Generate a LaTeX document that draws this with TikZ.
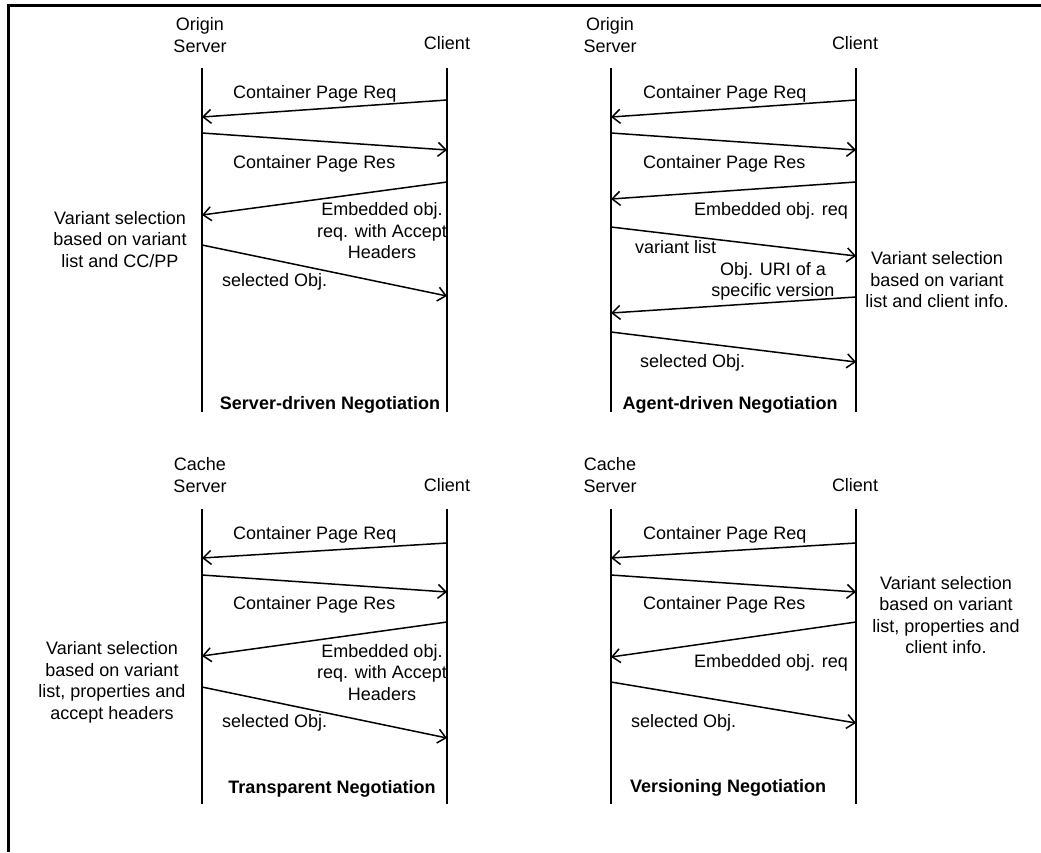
\documentclass[tikz,border=0pt]{standalone}
\usepackage{fontspec}
\setmainfont{Liberation Sans}
\usetikzlibrary{arrows.meta}
\begin{document}
\begin{tikzpicture}[x=1pt,y=-1pt,
  life/.style={line width=1.8pt},
  msg/.style={line width=1.5pt,-{Straight Barb[length=8pt,width=14pt,line width=1.5pt]}},
  lbl/.style={inner sep=0pt,font=\fontsize{18}{21.5}\selectfont},
  mlbl/.style={lbl,align=center},
  ttl/.style={inner sep=0pt,font=\fontsize{18}{21.5}\selectfont\bfseries},
  frame/.style={line width=3pt}]
\useasboundingbox (0,0) rectangle (1041,852);
% frame
\coordinate (fTL) at (8,5);
\coordinate (fTR) at (1041,5);
\coordinate (fBL) at (8,852);
\draw[frame] (fTR) -- (fTL) -- (fBL);

%%%%%%%%%%%%%%%% Panel 1: Server-driven
\node[mlbl] (h1s) at (200,35) {Origin\\Server};
\node[lbl,anchor=base] (h1c) at (447,49.5) {Client};
\coordinate (s1t) at (202,68); \coordinate (s1b) at (202,412);
\coordinate (c1t) at (447,68); \coordinate (c1b) at (447,412);
\draw[life] (s1t) -- (s1b);
\draw[life] (c1t) -- (c1b);
\coordinate (p1a) at (447,100); \coordinate (p1b) at (202,117);
\coordinate (p1c) at (202,133); \coordinate (p1d) at (447,150);
\coordinate (p1e) at (447,182); \coordinate (p1f) at (202,215);
\coordinate (p1g) at (202,245); \coordinate (p1h) at (447,296);
\draw[msg] (p1a) -- (p1b);
\draw[msg] (p1c) -- (p1d);
\draw[msg] (p1e) -- (p1f);
\draw[msg] (p1g) -- (p1h);
\node[lbl,anchor=base west] (l1a) at (233,98) {Container Page Req};
\node[lbl,anchor=base west] (l1b) at (233,168.5) {Container Page Res};
\node[mlbl] (l1c) at (382,231) {Embedded obj.\\req. with Accept\\Headers};
\node[mlbl] (l1d) at (120,239.5) {Variant selection\\based on variant\\list and CC/PP};
\node[lbl,anchor=base west] (l1e) at (222,286) {selected Obj.};
\node[ttl,anchor=base] (t1) at (330,409) {Server-driven Negotiation};

%%%%%%%%%%%%%%%% Panel 2: Agent-driven
\node[mlbl] (h2s) at (610,35) {Origin\\Server};
\node[lbl,anchor=base] (h2c) at (855,49.5) {Client};
\coordinate (s2t) at (611,68); \coordinate (s2b) at (611,412);
\coordinate (c2t) at (856,68); \coordinate (c2b) at (856,412);
\draw[life] (s2t) -- (s2b);
\draw[life] (c2t) -- (c2b);
\coordinate (p2a) at (856,100); \coordinate (p2b) at (611,117);
\coordinate (p2c) at (611,133); \coordinate (p2d) at (856,150);
\coordinate (p2e) at (856,182); \coordinate (p2f) at (611,199);
\coordinate (p2g) at (611,227); \coordinate (p2h) at (856,256);
\coordinate (p2i) at (856,297); \coordinate (p2j) at (611,313);
\coordinate (p2k) at (611,332); \coordinate (p2l) at (856,362);
\draw[msg] (p2a) -- (p2b);
\draw[msg] (p2c) -- (p2d);
\draw[msg] (p2e) -- (p2f);
\draw[msg] (p2g) -- (p2h);
\draw[msg] (p2i) -- (p2j);
\draw[msg] (p2k) -- (p2l);
\node[lbl,anchor=base west] (l2a) at (643,98) {Container Page Req};
\node[lbl,anchor=base west] (l2b) at (643,168.5) {Container Page Res};
\node[lbl,anchor=base east] (l2c) at (848,215.5) {Embedded obj. req};
\node[lbl,anchor=base west] (l2d) at (635,253.5) {variant list};
\node[mlbl] (l2e) at (773,281.5) {Obj. URI of a\\specific version};
\node[mlbl] (l2f) at (937,280) {Variant selection\\based on variant\\list and client info.};
\node[lbl,anchor=base west] (l2g) at (640,367.5) {selected Obj.};
\node[ttl,anchor=base] (t2) at (730,409) {Agent-driven Negotiation};

%%%%%%%%%%%%%%%% Panel 3: Transparent
\node[mlbl] (h3s) at (200,475) {Cache\\Server};
\node[lbl,anchor=base] (h3c) at (447,491.5) {Client};
\coordinate (s3t) at (202,509); \coordinate (s3b) at (202,804);
\coordinate (c3t) at (447,509); \coordinate (c3b) at (447,804);
\draw[life] (s3t) -- (s3b);
\draw[life] (c3t) -- (c3b);
\coordinate (p3a) at (447,543); \coordinate (p3b) at (202,558);
\coordinate (p3c) at (202,575); \coordinate (p3d) at (447,592);
\coordinate (p3e) at (447,622); \coordinate (p3f) at (202,656);
\coordinate (p3g) at (202,687); \coordinate (p3h) at (447,738);
\draw[msg] (p3a) -- (p3b);
\draw[msg] (p3c) -- (p3d);
\draw[msg] (p3e) -- (p3f);
\draw[msg] (p3g) -- (p3h);
\node[lbl,anchor=base west] (l3a) at (233,539.5) {Container Page Req};
\node[lbl,anchor=base west] (l3b) at (233,609.5) {Container Page Res};
\node[mlbl] (l3c) at (382,672.5) {Embedded obj.\\req. with Accept\\Headers};
\node[mlbl] (l3d) at (112,682.5) {Variant selection\\based on variant\\list, properties and\\accept headers};
\node[lbl,anchor=base west] (l3e) at (222,727.5) {selected Obj.};
\node[ttl,anchor=base] (t3) at (332,793) {Transparent Negotiation};

%%%%%%%%%%%%%%%% Panel 4: Versioning
\node[mlbl] (h4s) at (610,475) {Cache\\Server};
\node[lbl,anchor=base] (h4c) at (855,491.5) {Client};
\coordinate (s4t) at (611,509); \coordinate (s4b) at (611,804);
\coordinate (c4t) at (856,509); \coordinate (c4b) at (856,804);
\draw[life] (s4t) -- (s4b);
\draw[life] (c4t) -- (c4b);
\coordinate (p4a) at (856,543); \coordinate (p4b) at (611,558);
\coordinate (p4c) at (611,575); \coordinate (p4d) at (856,592);
\coordinate (p4e) at (856,622); \coordinate (p4f) at (611,657);
\coordinate (p4g) at (611,682); \coordinate (p4h) at (856,723);
\draw[msg] (p4a) -- (p4b);
\draw[msg] (p4c) -- (p4d);
\draw[msg] (p4e) -- (p4f);
\draw[msg] (p4g) -- (p4h);
\node[lbl,anchor=base west] (l4a) at (643,539.5) {Container Page Req};
\node[lbl,anchor=base west] (l4b) at (643,609.5) {Container Page Res};
\node[lbl,anchor=base east] (l4c) at (848,667.5) {Embedded obj. req};
\node[mlbl] (l4d) at (946,615) {Variant selection\\based on variant\\list, properties and\\client info.};
\node[lbl,anchor=base west] (l4e) at (631,727.5) {selected Obj.};
\node[ttl,anchor=base] (t4) at (728,792.5) {Versioning Negotiation};
\end{tikzpicture}
\end{document}
